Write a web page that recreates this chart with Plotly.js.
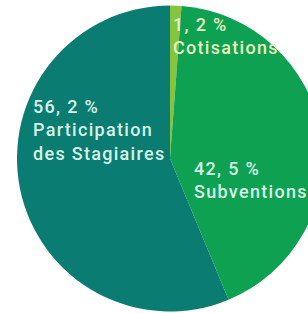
<!DOCTYPE html>
<html>
<head>
<meta charset="utf-8">
<script src="https://cdn.plot.ly/plotly-3.0.1.min.js"></script>
<style>
html,body{margin:0;padding:0;width:308px;height:313px;overflow:hidden;background:#fff;}
#chart{width:340px;height:313px;}
#chart .annotation-text{letter-spacing:1.3px;}
</style>
</head>
<body>
<div id="chart"></div>
<script>
// Data
const categories = ["Cotisations", "Subventions", "Participation<br>des Stagiaires"];
const values = [1.2, 42.5, 56.2];
const valueLabels = ["1, 2 %", "42, 5 %", "56, 2 %"];
const sliceColors = ["#86c440", "#0ea152", "#0a7c72"];
const labelColors = ["#e8f3bf", "#d6f3e6", "#d6f3e6"];

const W = 340, H = 313;
// label anchor positions in pixels (top-left of each text block)
const labelPos = [[171, 12], [192, 156], [31, 94]];

const trace = {
  type: "pie",
  labels: categories,
  values: values,
  sort: false,
  direction: "clockwise",
  rotation: 0,
  textinfo: "none",
  hoverinfo: "none",
  marker: {colors: sliceColors, line: {width: 0}},
  domain: {x: [17 / W, 323 / W], y: [1.5 / H, 307.5 / H]}
};

const annotations = categories.map((c, i) => ({
  xref: "paper", yref: "paper",
  x: labelPos[i][0] / W, y: 1 - labelPos[i][1] / H,
  xanchor: "left", yanchor: "top", align: "left",
  showarrow: false,
  text: valueLabels[i] + "<br>" + c,
  font: {family: "Roboto, sans-serif", size: 18, color: labelColors[i], weight: 500}
}));

Plotly.newPlot("chart", [trace], {
  width: W, height: H,
  margin: {l: 0, r: 0, t: 0, b: 0},
  showlegend: false,
  paper_bgcolor: "#ffffff",
  annotations: annotations
}, {staticPlot: true, displayModeBar: false});
</script>
</body>
</html>
